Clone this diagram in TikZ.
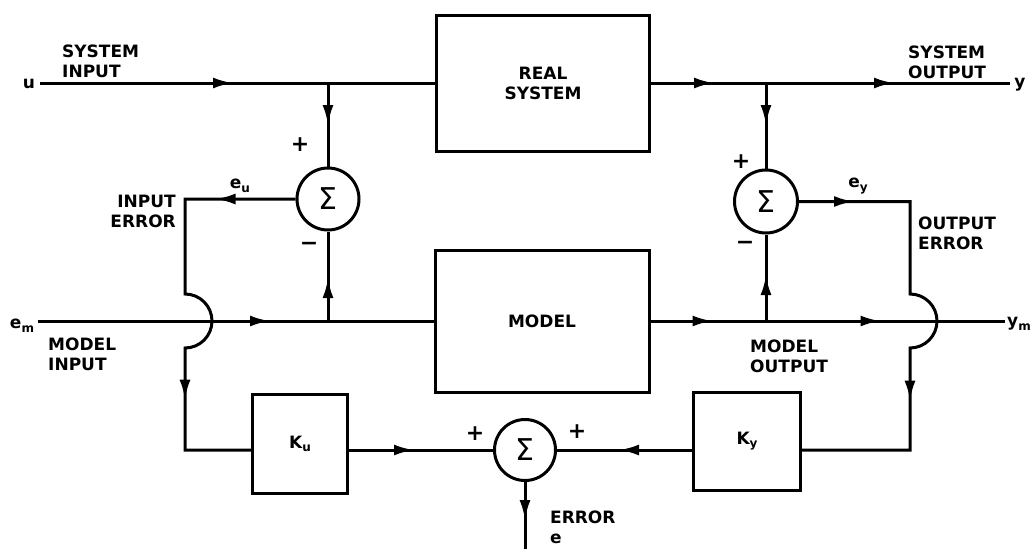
\documentclass[tikz,border=0pt]{standalone}
\usepackage{fontspec}
\setmainfont{DejaVu Sans}
\usetikzlibrary{arrows.meta,decorations.markings}
\newcommand\dglbl{\fontsize{17}{20}\selectfont\bfseries}
\newcommand\sbs[1]{\raisebox{-0.4ex}{\fontsize{12}{12}\selectfont\bfseries #1}}
\tikzset{
  >={Latex[length=20pt,width=11pt]},
  wire/.style={line width=3pt},
  tipat/.style={postaction={decorate,decoration={markings,mark=at position #1 with {\arrow{>}}}}},
  blk/.style={draw, line width=3pt, inner sep=0pt, font=\dglbl, align=center},
  sumnode/.style={draw, circle, line width=3pt, minimum size=#1, inner sep=0pt, font=\fontsize{30}{30}\selectfont},
  lbl/.style={inner sep=0pt, font=\dglbl},
  pm/.style={inner sep=0pt, font=\fontsize{22}{22}\selectfont\bfseries},
}
\begin{document}
\begin{tikzpicture}[x=1pt,y=-1pt]
\useasboundingbox (0,0) rectangle (1033,549);
% blocks
\node[blk, minimum width=213pt, minimum height=136pt] (real) at (543,83) {REAL\\SYSTEM};
\node[blk, minimum width=214pt, minimum height=142pt] (model) at (542,321) {MODEL};
\node[blk, minimum width=95pt, minimum height=99pt] (ku) at (300,444) {K\sbs{u}};
\node[blk, minimum width=107pt, minimum height=98pt] (ky) at (747,441) {K\sbs{y}};
% summing junctions
\node[sumnode=62pt] (sL) at (328,199) {Σ};
\node[sumnode=63pt] (sR) at (766,201.5) {Σ};
\node[sumnode=61pt] (sB) at (525,450) {Σ};
% free ends
\coordinate (uin) at (40,83);
\coordinate (yout) at (1010,83);
\coordinate (emin) at (38,321);
\coordinate (ymout) at (1005,321);
\coordinate (eout) at (525,549);
\coordinate (xL) at (185,0);
\coordinate (xR) at (910,0);
% connectors
\draw[wire, tipat=193pt] (uin) -- (uin -| real.west);
\draw[wire, tipat=42pt] (uin -| sL) -- (sL.north);
\draw[wire, tipat=63pt, tipat=243pt] (real.east |- yout) -- (yout);
\draw[wire, tipat=42pt] (yout -| sR) -- (sR.north);
\draw[wire, tipat=232pt] (emin) -- (emin -| model.west);
\draw[wire, tipat=43pt] (emin -| sL) -- (sL.south);
\draw[wire, tipat=62pt, tipat=230pt] (model.east) -- (ymout);
\draw[wire, tipat=46pt] (ymout -| sR) -- (sR.south);
\draw[wire, tipat=80pt, tipat=342pt] (sL.west) -- (sL.west -| xL) -- (185,294)
  arc[start angle=90, end angle=-90, radius=27pt] -- (xL |- sB.west) -- (ku.west |- sB.west);
\draw[wire, tipat=55pt, tipat=341pt] (sR.east) -- (sR.east -| xR) -- (910,294)
  arc[start angle=90, end angle=-90, radius=27pt] -- (xR |- sB.east) -- (ky.east |- sB.east);
\draw[wire, tipat=65pt] (ku.east |- sB.west) -- (sB.west);
\draw[wire, tipat=73pt] (ky.west |- sB.east) -- (sB.east);
\draw[wire, tipat=38pt] (sB.south) -- (eout);
% labels
\node[lbl, anchor=north west, align=left] (sin) at (62,45) {SYSTEM\\INPUT};
\node[lbl] (u) at (29,84) {u};
\node[lbl, anchor=north east, align=right] (ierr) at (176,195) {INPUT\\ERROR};
\node[lbl] (eu) at (240,186) {e\sbs{u}};
\node[lbl] (em) at (22,326) {e\sbs{m}};
\node[lbl, anchor=north west, align=left] (min) at (48,338) {MODEL\\INPUT};
\node[lbl, anchor=north west, align=left] (sout) at (908,46) {SYSTEM\\OUTPUT};
\node[lbl] (y) at (1020,85) {y};
\node[lbl] (ey) at (858,186) {e\sbs{y}};
\node[lbl, anchor=north west, align=left] (oerr) at (918,217) {OUTPUT\\ERROR};
\node[lbl, anchor=north west, align=left] (mout) at (750,340) {MODEL\\OUTPUT};
\node[lbl] (ym) at (1019,324) {y\sbs{m}};
\node[lbl, anchor=north west, align=left] (err) at (550,511) {ERROR\\e};
% signs
\node[pm] (p1) at (300,145) {+};
\node[pm] (m1) at (309,246) {−};
\node[pm] (p2) at (741,162) {+};
\node[pm] (m2) at (745,245) {−};
\node[pm] (p3) at (475,434) {+};
\node[pm] (p4) at (577,432) {+};
\end{tikzpicture}
\end{document}
